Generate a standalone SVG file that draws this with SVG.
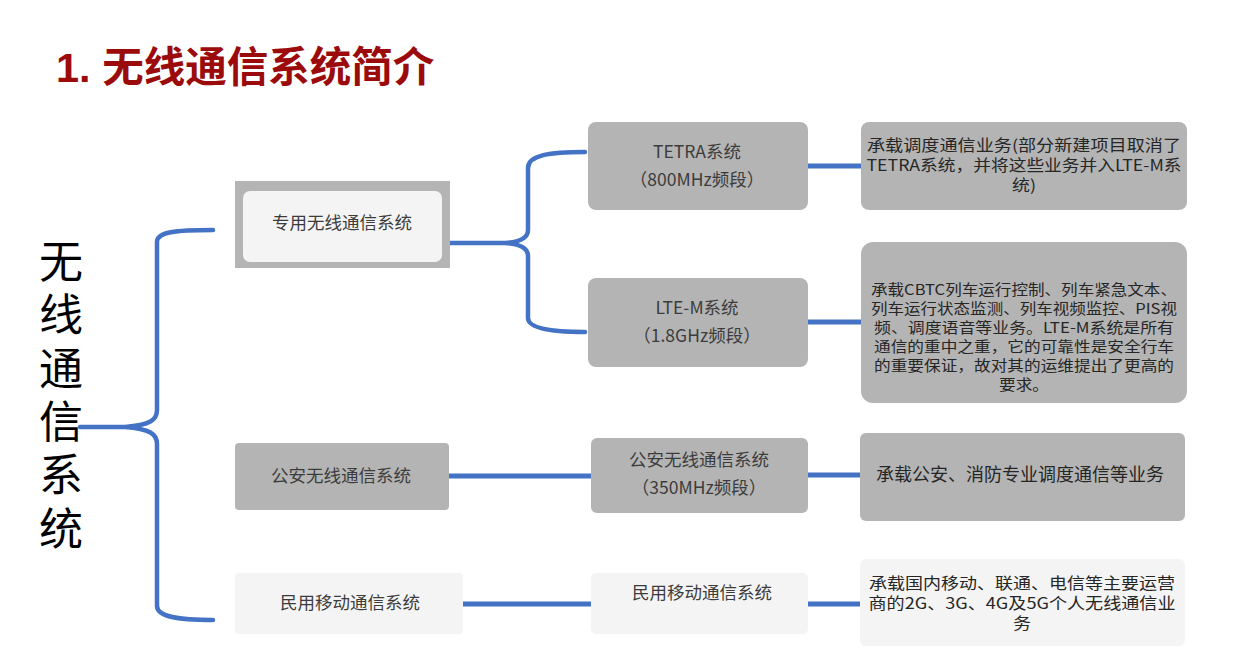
<svg xmlns="http://www.w3.org/2000/svg" width="1255" height="661" viewBox="0 0 1255 661">
<style>
.t{font-family:"Noto Sans CJK SC","Liberation Sans",sans-serif;text-anchor:middle;fill:#3c3c3c;font-size:17.5px}
.d{font-family:"Noto Sans CJK SC","Liberation Sans",sans-serif;text-anchor:middle;fill:#262626;font-size:15.5px}
.s{font-size:14.5px}
.g{fill:#b4b4b4}
.l{fill:#f4f4f4}
.c{fill:none;stroke:#4472c4;stroke-width:5}
.b{fill:none;stroke:#4472c4;stroke-width:4.5;stroke-linecap:round}
</style>
<rect width="1255" height="661" fill="#ffffff"/>
<text x="56" y="82" font-family="Liberation Sans, Noto Sans CJK SC, sans-serif" font-weight="bold" font-size="41.5" fill="#9b0b0b">1. 无线通信系统简介</text>
<g id="root">
<text x="61" y="239" style="writing-mode:vertical-rl;font-family:'Noto Sans CJK SC',sans-serif;font-size:44px;letter-spacing:9.4px;fill:#000000">无线通信系统</text>
</g>
<g id="connectors">
<path class="b" d="M213,230 C175,230 157,232 157,242 L157,410 C157,420 150,425 125,427 L80,427 M125,427 C150,429 157,434 157,444 L157,606 C157,616 175,620 213,620"/>
<path class="b" d="M585,152 C550,152 528,155 528,168 L528,230 C528,238 520,242 505,243 L449,243 M505,243 C520,244 528,248 528,256 L528,318 C528,328 550,332 585,332"/>
<line class="c" x1="808" y1="166" x2="861" y2="166"/>
<line class="c" x1="808" y1="322" x2="861" y2="322"/>
<line class="c" x1="449" y1="476" x2="591" y2="476"/>
<line class="c" x1="808" y1="475" x2="860" y2="475"/>
<line class="c" x1="463" y1="604" x2="591" y2="604"/>
<line class="c" x1="808" y1="604" x2="860" y2="604"/>
</g>
<g id="n-zhuanyong">
<rect class="g" x="235" y="181" width="215" height="87"/>
<rect class="l" x="243" y="191" width="199" height="71" rx="7"/>
<text class="t" x="342" y="229">专用无线通信系统</text>
</g>
<g id="n-tetra">
<rect class="g" x="588" y="122" width="220" height="88" rx="8"/>
<text class="t"><tspan x="697" y="158">TETRA系统</tspan><tspan x="697" y="186">（800MHz频段）</tspan></text>
</g>
<g id="n-tetra-desc">
<rect class="g" x="861" y="122" width="326" height="88" rx="8"/>
<text class="d"><tspan x="1024" y="151" textLength="314" lengthAdjust="spacingAndGlyphs">承载调度通信业务(部分新建项目取消了</tspan><tspan x="1024" y="171" textLength="315" lengthAdjust="spacingAndGlyphs">TETRA系统，并将这些业务并入LTE-M系</tspan><tspan x="1024" y="191" textLength="24" lengthAdjust="spacingAndGlyphs">统)</tspan></text>
</g>
<g id="n-ltem">
<rect class="g" x="588" y="278" width="220" height="89" rx="8"/>
<text class="t"><tspan x="697" y="314">LTE-M系统</tspan><tspan x="697" y="342">（1.8GHz频段）</tspan></text>
</g>
<g id="n-ltem-desc">
<rect class="g" x="861" y="242" width="326" height="161" rx="12"/>
<text class="d s"><tspan x="1024" y="294.7" textLength="306" lengthAdjust="spacingAndGlyphs">承载CBTC列车运行控制、列车紧急文本、</tspan><tspan x="1024" y="313.7" textLength="306" lengthAdjust="spacingAndGlyphs">列车运行状态监测、列车视频监控、PIS视</tspan><tspan x="1024" y="332.7" textLength="300" lengthAdjust="spacingAndGlyphs">频、调度语音等业务。LTE-M系统是所有</tspan><tspan x="1024" y="351.7" textLength="300" lengthAdjust="spacingAndGlyphs">通信的重中之重，它的可靠性是安全行车</tspan><tspan x="1024" y="370.7" textLength="300" lengthAdjust="spacingAndGlyphs">的重要保证，故对其的运维提出了更高的</tspan><tspan x="1024" y="389.7" textLength="50" lengthAdjust="spacingAndGlyphs">要求。</tspan></text>
</g>
<g id="n-gongan">
<rect class="g" x="235" y="443" width="214" height="67" rx="4"/>
<text class="t" x="341" y="482">公安无线通信系统</text>
</g>
<g id="n-gongan-mid">
<rect class="g" x="591" y="438" width="217" height="75" rx="6"/>
<text class="t"><tspan x="699" y="466">公安无线通信系统</tspan><tspan x="699" y="494">（350MHz频段）</tspan></text>
</g>
<g id="n-gongan-desc">
<rect class="g" x="860" y="433" width="325" height="88" rx="6"/>
<text class="d" x="1020" y="481" style="font-size:18px">承载公安、消防专业调度通信等业务</text>
</g>
<g id="n-minyong">
<rect class="l" x="235" y="573" width="228" height="61" rx="4"/>
<text class="t" x="350" y="609">民用移动通信系统</text>
</g>
<g id="n-minyong-mid">
<rect class="l" x="591" y="573" width="217" height="61" rx="5"/>
<text class="t" x="702" y="599">民用移动通信系统</text>
</g>
<g id="n-minyong-desc">
<rect class="l" x="860" y="559" width="325" height="87" rx="6"/>
<text class="d"><tspan x="1022" y="589" textLength="306" lengthAdjust="spacingAndGlyphs">承载国内移动、联通、电信等主要运营</tspan><tspan x="1022" y="609" textLength="307" lengthAdjust="spacingAndGlyphs">商的2G、3G、4G及5G个人无线通信业</tspan><tspan x="1022" y="629" textLength="18" lengthAdjust="spacingAndGlyphs">务</tspan></text>
</g>
</svg>
